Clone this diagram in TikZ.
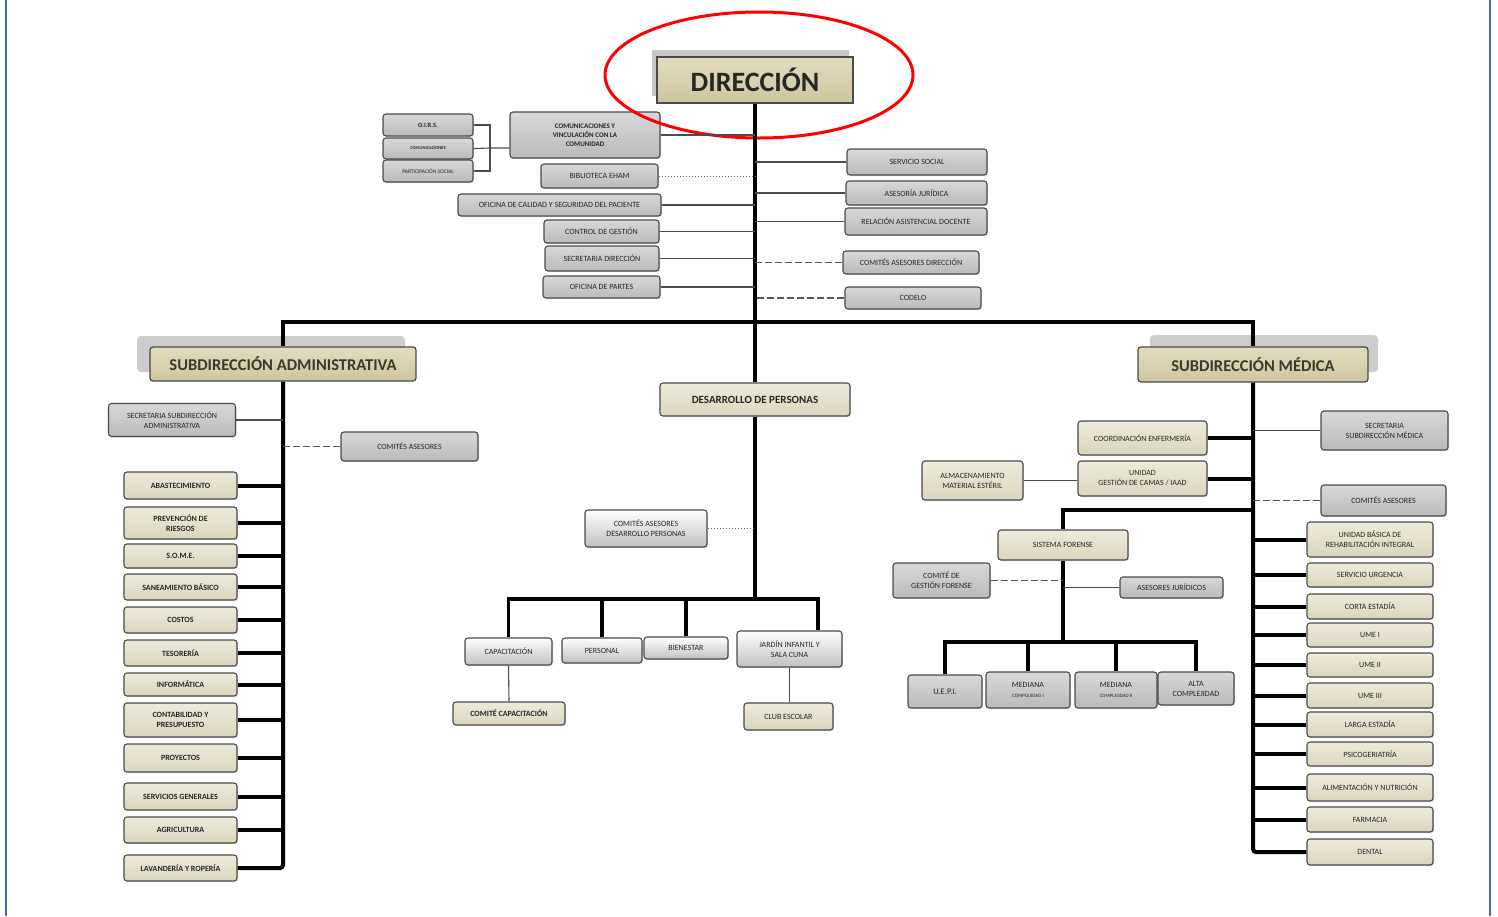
\documentclass[tikz,border=0pt]{standalone}
\usepackage{fontspec}
\setmainfont{Carlito}
\usetikzlibrary{shadows}
\definecolor{boxline}{HTML}{4A4A4A}
\definecolor{txt}{HTML}{262626}
\definecolor{grayT}{HTML}{D8D8D8}
\definecolor{grayB}{HTML}{BABABA}
\definecolor{beigeT}{HTML}{EEEBDC}
\definecolor{beigeB}{HTML}{DAD5BD}
\definecolor{hdrT}{HTML}{E2DCC0}
\definecolor{hdrB}{HTML}{CFC59E}
\definecolor{hdrtxt}{HTML}{3A3A2C}
\definecolor{frameblue}{HTML}{3D6BA6}
\newcommand\fA{\fontsize{8}{10}\selectfont}
\newcommand\fB{\fontsize{8}{10}\selectfont\bfseries}
\tikzset{
  sz/.style 2 args={minimum width=#1pt, minimum height=#2pt},
  box/.style={rounded corners=3pt, draw=boxline, line width=1.1pt, inner sep=1pt,
    align=center, text=txt, font=\fA,
    drop shadow={shadow xshift=1.2pt, shadow yshift=-1.2pt, opacity=0.25}},
  graybox/.style={box, top color=grayT, bottom color=grayB},
  lightbox/.style={box, top color=white, bottom color=grayB!90!white},
  beigebox/.style={box, top color=beigeT, bottom color=beigeB},
  beigebold/.style={beigebox, font=\fB},
  hdr/.style={rounded corners=3pt, draw=boxline, line width=1.3pt, top color=hdrT, bottom color=hdrB,
    text=hdrtxt, font=\fontsize{16.5}{18}\selectfont\bfseries, inner sep=2pt},
  trunk/.style={line width=4pt, black},
  medl/.style={line width=3.2pt, black},
  thinl/.style={line width=1.1pt, black!70},
  dashl/.style={line width=1.3pt, black!65, dash pattern=on 7pt off 3pt},
  dotl/.style={line width=1pt, black!60, dotted},
}
\begin{document}
\begin{tikzpicture}[x=1pt,y=-1pt]
\useasboundingbox (0,0) rectangle (1498,916);
\fill[white] (0,0) rectangle (1498,916);
\draw[frameblue, line width=2.5pt] (6,0) -- (6,916);
\draw[frameblue, line width=2.5pt] (1490,0) -- (1490,916);

% header shadows
\fill[gray!45] (652,50) rectangle (849,96);
\fill[gray!40, rounded corners=4pt] (137,336) rectangle (405,372);
\fill[gray!40, rounded corners=4pt] (1150,335) rectangle (1378,372);

% DIRECCION
\node[draw=boxline, line width=1.5pt, top color=hdrT, bottom color=hdrB, sz={196}{46},
  text=black!85, font=\fontsize{28}{30}\selectfont\bfseries] (dir) at (755,80) {DIRECCIÓN};

% top-left cluster
\node[graybox, sz={150}{46}, font=\fontsize{7}{9}\selectfont\bfseries] (comu) at (585,135) {COMUNICACIONES Y\\VINCULACIÓN CON LA\\COMUNIDAD};
\node[graybox, sz={90}{22}, font=\fontsize{6.5}{7}\selectfont\bfseries] (oirs) at (428,125) {O.I.R.S.};
\node[graybox, sz={90}{21}, font=\fontsize{4.5}{5}\selectfont\bfseries] (comunic) at (428,148.5) {COMUNICACIONES};
\node[graybox, sz={90}{22}, font=\fontsize{5.5}{6}\selectfont] (part) at (428,171) {PARTICIPACIÓN SOCIAL};
\node[graybox, sz={117}{24}] (bibl) at (599.5,176) {BIBLIOTECA EHAM};
\node[graybox, sz={203}{22}] (ofcal) at (559.5,205) {OFICINA DE CALIDAD Y SEGURIDAD DEL PACIENTE};
\node[graybox, sz={115}{23}] (ctrl) at (601.5,231.5) {CONTROL DE GESTIÓN};
\node[graybox, sz={114}{25}] (secdir) at (602,258.5) {SECRETARIA DIRECCIÓN};
\node[graybox, sz={117}{22}] (ofpar) at (601.5,287) {OFICINA DE PARTES};

% top-right cluster
\node[graybox, sz={140}{26}] (sersoc) at (917,162) {SERVICIO SOCIAL};
\node[graybox, sz={141}{24}] (asjur) at (916.5,193) {ASESORÍA JURÍDICA};
\node[graybox, sz={142}{27}] (rad) at (916,221.5) {RELACIÓN ASISTENCIAL DOCENTE};
\node[graybox, sz={136}{23}] (comdir) at (911,262.5) {COMITÉS ASESORES DIRECCIÓN};
\node[graybox, sz={136}{22}] (codelo) at (913,298) {CODELO};

% subdirections
\node[hdr, sz={266}{34}] (admin) at (283,364) {SUBDIRECCIÓN ADMINISTRATIVA};
\node[hdr, sz={230}{35}] (med) at (1253,364.5) {SUBDIRECCIÓN MÉDICA};

% left side
\node[graybox, sz={127}{33}] (secadm) at (172,420) {SECRETARIA SUBDIRECCIÓN\\ADMINISTRATIVA};
\node[graybox, sz={137}{29}] (comadm) at (409.5,446.5) {COMITÉS ASESORES};
\node[beigebold, sz={113}{27}] (abas) at (180.5,485.5) {ABASTECIMIENTO};
\node[beigebold, sz={113}{32}] (prev) at (180.5,523) {PREVENCIÓN DE\\RIESGOS};
\node[beigebold, sz={113}{24}] (some) at (180.5,556) {S.O.M.E.};
\node[beigebold, sz={113}{26}] (sane) at (180.5,587) {SANEAMIENTO BÁSICO};
\node[beigebold, sz={113}{26}] (costos) at (180.5,620) {COSTOS};
\node[beigebold, sz={113}{26}] (teso) at (180.5,653) {TESORERÍA};
\node[beigebold, sz={113}{23}] (info) at (180.5,684.5) {INFORMÁTICA};
\node[beigebold, sz={113}{34}] (conta) at (180.5,720) {CONTABILIDAD Y\\PRESUPUESTO};
\node[beigebold, sz={113}{28}] (proy) at (180.5,758) {PROYECTOS};
\node[beigebold, sz={113}{27}] (servg) at (180.5,796.5) {SERVICIOS GENERALES};
\node[beigebold, sz={113}{26}] (agri) at (180.5,830) {AGRICULTURA};
\node[beigebold, sz={113}{26}] (lav) at (180.5,868) {LAVANDERÍA Y ROPERÍA};

% middle
\node[beigebox, sz={190}{33}, font=\fontsize{11}{13}\selectfont\bfseries] (desa) at (755,399.5) {DESARROLLO DE PERSONAS};
\node[lightbox, sz={122}{37}] (comdes) at (646,528.5) {COMITÉS ASESORES\\DESARROLLO PERSONAS};
\node[lightbox, sz={87}{27}] (cap) at (508.5,651.5) {CAPACITACIÓN};
\node[lightbox, sz={80}{25}] (per) at (602,650.5) {PERSONAL};
\node[lightbox, sz={84}{22}] (bien) at (686,648) {BIENESTAR};
\node[lightbox, sz={105}{36}] (jardin) at (789.5,649) {JARDÍN INFANTIL Y\\SALA CUNA};
\node[beigebold, sz={112}{23}] (comcap) at (509,713.5) {COMITÉ CAPACITACIÓN};
\node[beigebox, sz={89}{27}] (club) at (788.5,716.5) {CLUB ESCOLAR};

% right side
\node[beigebox, sz={129}{34}] (coord) at (1142.5,438) {COORDINACIÓN ENFERMERÍA};
\node[beigebox, sz={129}{35}] (ugc) at (1142.5,478.5) {UNIDAD\\GESTIÓN DE CAMAS / IAAD};
\node[beigebox, sz={101}{39}] (alm) at (972.5,480.5) {ALMACENAMIENTO\\MATERIAL ESTÉRIL};
\node[graybox, sz={127}{39}] (secmed) at (1384.5,430.5) {SECRETARIA\\SUBDIRECCIÓN MÉDICA};
\node[graybox, sz={125}{31}] (commed) at (1383.5,500.5) {COMITÉS ASESORES};
\node[beigebox, sz={130}{30}] (forense) at (1063,545) {SISTEMA FORENSE};
\node[graybox, sz={97}{35}] (comgf) at (941.5,580.5) {COMITÉ DE\\GESTIÓN FORENSE};
\node[graybox, sz={103}{21}] (asjurf) at (1171.5,587.5) {ASESORES JURÍDICOS};
\node[graybox, sz={74}{33}, font=\fontsize{8.5}{10}\selectfont] (uepi) at (945,691.5) {U.E.P.I.};
\node[graybox, sz={84}{36}] (mc1) at (1028,690) {MEDIANA\\{\fontsize{5}{6}\selectfont COMPLEJIDAD I}};
\node[graybox, sz={82}{36}] (mc2) at (1116,690) {MEDIANA\\{\fontsize{5}{6}\selectfont COMPLEJIDAD II}};
\node[graybox, sz={76}{33}] (alta) at (1196,688.5) {ALTA\\COMPLEJIDAD};

\node[beigebox, sz={126}{35}] (ubri) at (1370,539.5) {UNIDAD BÁSICA DE\\REHABILITACIÓN INTEGRAL};
\node[beigebox, sz={126}{24}] (surg) at (1370,575) {SERVICIO URGENCIA};
\node[beigebox, sz={126}{25}] (corta) at (1370,606.5) {CORTA ESTADÍA};
\node[beigebox, sz={126}{24}] (ume1) at (1370,635) {UME I};
\node[beigebox, sz={126}{24}] (ume2) at (1370,665) {UME II};
\node[beigebox, sz={126}{25}] (ume3) at (1370,695.5) {UME III};
\node[beigebox, sz={126}{25}] (larga) at (1370,724.5) {LARGA ESTADÍA};
\node[beigebox, sz={126}{24}] (psico) at (1370,754) {PSICOGERIATRÍA};
\node[beigebox, sz={126}{27}] (alim) at (1370,787.5) {ALIMENTACIÓN Y NUTRICIÓN};
\node[beigebox, sz={126}{25}] (farm) at (1370,819.5) {FARMACIA};
\node[beigebox, sz={126}{26}] (dental) at (1370,852) {DENTAL};

% red ellipse
\draw[red, line width=3pt] (759,75) ellipse [x radius=154pt, y radius=63pt];

% ===== connectors =====
\coordinate (barL) at (283,322);
\coordinate (barR) at (1253,322);
\draw[trunk] (dir.south) -- (desa.north);
\draw[trunk] (admin.north) |- (barR) -- (med.north);

% top-left connectors
\coordinate (brk) at (490,148);
\draw[thinl] (oirs.east) -| (brk);
\draw[thinl] (part.east) -| (brk);
\draw[thinl] (comunic.east) -- (brk) -- (brk -| comu.west);
\draw[thinl] (comu.east) -- (comu.east -| dir.south);
\draw[dotl] (bibl.east) -- (bibl.east -| dir.south);
\draw[thinl] (ofcal.east) -- (ofcal.east -| dir.south);
\draw[thinl] (ctrl.east) -- (ctrl.east -| dir.south);
\draw[thinl] (secdir.east) -- (secdir.east -| dir.south);
\draw[thinl] (ofpar.east) -- (ofpar.east -| dir.south);
% top-right connectors
\draw[thinl] (sersoc.west) -- (sersoc.west -| dir.south);
\draw[thinl] (asjur.west) -- (asjur.west -| dir.south);
\draw[thinl] (rad.west) -- (rad.west -| dir.south);
\draw[dashl] (comdir.west) -- (comdir.west -| dir.south);
\draw[dashl] (codelo.west) -- (codelo.west -| dir.south);

% left side connectors
\draw[trunk, rounded corners=3pt] (admin.south) |- (lav.east);
\draw[thinl] (secadm.east) -- (secadm.east -| admin.south);
\draw[dashl] (comadm.west) -- (comadm.west -| admin.south);
\foreach \n in {abas,prev,some,sane,costos,teso,info,conta,proy,servg,agri}
  \draw[trunk] (\n.east) -- (\n.east -| admin.south);

% middle connectors
\coordinate (mbarR) at (818,599);
\draw[trunk] (desa.south) -- (desa.south |- mbarR);
\draw[dotl] (comdes.east) -- (comdes.east -| desa.south);
\draw[medl] (cap.north) |- (mbarR) -- (mbarR |- jardin.north);
\draw[medl] (per.north) -- (per.north |- mbarR);
\draw[medl] (bien.north) -- (bien.north |- mbarR);
\draw[thinl] (cap.south) -- (comcap.north);
\draw[thinl] (jardin.south) -- (jardin.south |- club.north);

% right side connectors
\draw[trunk, rounded corners=3pt] (med.south) |- (dental.west);
\draw[trunk] (coord.east) -- (coord.east -| med.south);
\draw[trunk] (ugc.east) -- (ugc.east -| med.south);
\draw[thinl] (alm.east) -- (alm.east -| ugc.west);
\draw[thinl] (secmed.west) -- (secmed.west -| med.south);
\draw[dashl] (commed.west) -- (commed.west -| med.south);
\foreach \n in {ubri,surg,corta,ume1,ume2,ume3,larga,psico,alim,farm}
  \draw[trunk] (\n.west) -- (\n.west -| med.south);

\coordinate (fbr) at (1063,510);
\coordinate (fbar) at (1063,642);
\draw[trunk] (fbr -| med.south) -- (fbr) -- (forense.north);
\draw[trunk] (forense.south) -- (fbar);
\draw[dashl] (comgf.east) -- (comgf.east -| forense.south);
\draw[thinl] (asjurf.west) -- (asjurf.west -| forense.south);
\draw[medl] (uepi.north) |- (fbar) -| (alta.north);
\draw[medl] (mc1.north) -- (mc1.north |- fbar);
\draw[medl] (mc2.north) -- (mc2.north |- fbar);
\end{tikzpicture}
\end{document}
